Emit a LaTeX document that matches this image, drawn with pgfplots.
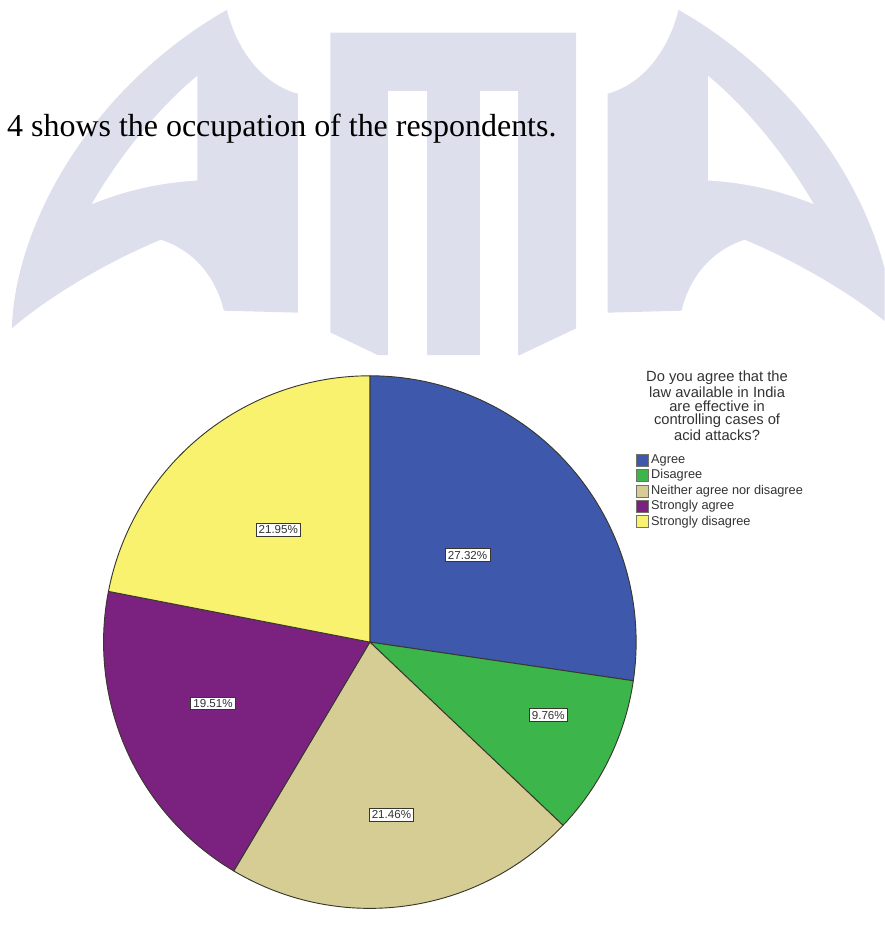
\documentclass[border=0pt]{standalone}
\usepackage{pgfplots}
\pgfplotsset{compat=1.18}
\usepackage{pgfplotstable}
\usepackage{fontspec}
\setmainfont{Liberation Serif}
\newfontfamily\arialfont{Liberation Sans}

\definecolor{wm}{RGB}{221,223,236}
\definecolor{cAgree}{RGB}{62,88,172}
\definecolor{cDis}{RGB}{60,181,74}
\definecolor{cNeither}{RGB}{213,205,148}
\definecolor{cSAgree}{RGB}{123,34,129}
\definecolor{cSDis}{RGB}{248,242,110}
\definecolor{pieedge}{RGB}{55,55,45}
\definecolor{legtext}{RGB}{50,50,50}

\pgfplotstableread{
label value color
Agree 27.32 cAgree
Disagree 9.76 cDis
Neither 21.46 cNeither
StronglyAgree 19.51 cSAgree
StronglyDisagree 21.95 cSDis
}\piedata

\begin{document}
\begin{tikzpicture}
\begin{scope}[x=0.75pt,y=-0.75pt]
\useasboundingbox (0,0) rectangle (897,935);
% watermark (decorative background)
\begin{scope}
\clip (0,0) rectangle (897,360);
\def\leftshape{%
  \fill[wm] (12,333) .. controls (15,230) and (90,90) .. (230,10)
    .. controls (240,50) and (265,85) .. (302,95)
    -- (302,317) -- (227,315)
    .. controls (220,285) and (200,255) .. (163,243)
    .. controls (110,265) and (50,300) .. (12,333) -- cycle;
  \fill[white] (200,77) .. controls (160,110) and (120,160) .. (93,207)
    .. controls (130,192) and (165,185) .. (200,183) -- cycle;}
\leftshape
\begin{scope}[xshift=918*0.75pt, xscale=-1]
\leftshape
\end{scope}
\fill[wm] (335,33) -- (584,33) -- (584,333) -- (527,360) -- (383,360) -- (335,337) -- cycle;
\fill[white] (393,92) rectangle (433,361);
\fill[white] (487,92) rectangle (525,361);
\end{scope}
% caption text
\node[anchor=base west, inner sep=0pt, font=\fontsize{24.3pt}{29pt}\selectfont] at (7,138) {4 shows the occupation of the respondents.};
% legend
\begin{scope}[text=legtext]
\begin{scope}[font=\arialfont\fontsize{11.2pt}{12pt}\selectfont]
\node[anchor=center, inner sep=0pt] at (727,383) {Do you agree that the};
\node[anchor=center, inner sep=0pt] at (727,398) {law available in India};
\node[anchor=center, inner sep=0pt] at (727,412) {are effective in};
\node[anchor=center, inner sep=0pt] at (727,427) {controlling cases of};
\node[anchor=center, inner sep=0pt] at (727,441) {acid attacks?};
\end{scope}
\begin{scope}[font=\arialfont\fontsize{9.7pt}{11pt}\selectfont]
\foreach \c/\t/\yy in {cAgree/Agree/467, cDis/Disagree/482, cNeither/Neither agree nor disagree/498, cSAgree/Strongly agree/513, cSDis/Strongly disagree/529}{
  \filldraw[fill=\c, draw=pieedge!70, line width=0.6pt] (645,\yy-6) rectangle (657,\yy+6);
  \node[anchor=west, inner sep=0pt] at (660,\yy) {\t};
}
\end{scope}
\end{scope}
\end{scope}

\begin{axis}[at={(281.25pt,-488.25pt)}, anchor=center, width=405pt, height=405pt,
  scale only axis, xmin=-1, xmax=1, ymin=-1, ymax=1, hide axis, clip=false]
\def\curang{90}
\pgfplotsforeachungrouped \i in {0,...,4}{%
  \pgfplotstablegetelem{\i}{value}\of\piedata \let\val\pgfplotsretval
  \pgfplotstablegetelem{\i}{color}\of\piedata \let\col\pgfplotsretval
  \pgfmathsetmacro\dang{-3.6*\val}
  \pgfmathsetmacro\endang{\curang+\dang}
  \edef\temp{\noexpand\filldraw[fill=\col, draw=pieedge, line width=0.7pt, line join=round] (axis cs:0,0) -- ++(\curang:202.5pt) arc[start angle=\curang, delta angle=\dang, radius=202.5pt] -- cycle;}
  \temp
  \global\let\curang\endang
}
\tikzset{pct/.style={draw=pieedge, line width=0.5pt, fill=white, inner xsep=2pt, inner ysep=1.8pt, font=\arialfont\fontsize{8.8pt}{9pt}\selectfont, text=black!80}}
\node[pct] at (axis cs:0.367,0.326) {27.32\%};
\node[pct] at (axis cs:0.670,-0.274) {9.76\%};
\node[pct] at (axis cs:0.081,-0.648) {21.46\%};
\node[pct] at (axis cs:-0.589,-0.230) {19.51\%};
\node[pct] at (axis cs:-0.344,0.422) {21.95\%};
\end{axis}
\end{tikzpicture}
\end{document}
